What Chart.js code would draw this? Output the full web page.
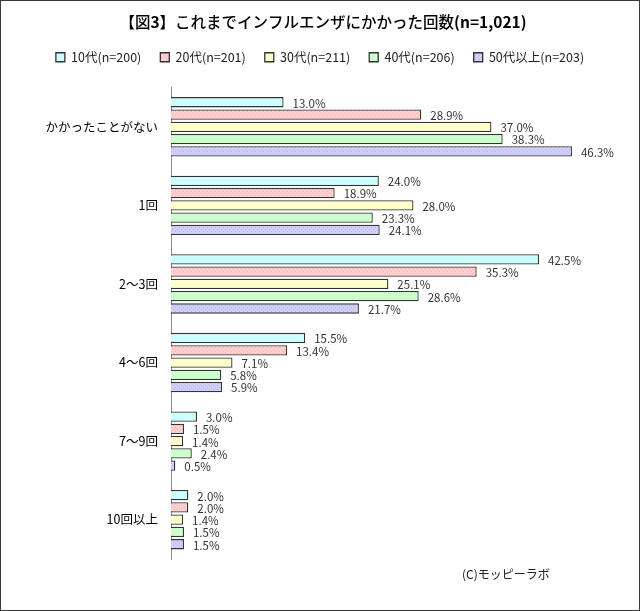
<!DOCTYPE html>
<html>
<head>
<meta charset="utf-8">
<script src="https://cdn.jsdelivr.net/npm/chart.js@4/dist/chart.umd.min.js"></script>
<style>
  body { margin: 0; background: #fff; }
  #wrap { width: 640px; height: 611px; box-sizing: border-box; border: 1px solid #3a3a3a; position: relative; }
</style>
</head>
<body>
<div id="wrap"><canvas id="chartInfluenza"></canvas></div>
<script>
const categories = ["かかったことがない", "1回", "2～3回", "4～6回", "7～9回", "10回以上"];
const seriesNames = ["10代(n=200)", "20代(n=201)", "30代(n=211)", "40代(n=206)", "50代以上(n=203)"];
const teens   = [13.0, 24.0, 42.5, 15.5, 3.0, 2.0];
const twenties = [28.9, 18.9, 35.3, 13.4, 1.5, 2.0];
const thirties = [37.0, 28.0, 25.1, 7.1, 1.4, 1.4];
const forties  = [38.3, 23.3, 28.6, 5.8, 2.4, 1.5];
const fifties  = [46.3, 24.1, 21.7, 5.9, 0.5, 1.5];

const JP = '"Noto Sans CJK JP", "DejaVu Sans", sans-serif';

// small dotted fill like the excel pattern
function dotted(base, dot) {
  const c = document.createElement("canvas");
  c.width = 4; c.height = 4;
  const g = c.getContext("2d");
  g.fillStyle = base; g.fillRect(0, 0, 4, 4);
  g.fillStyle = dot;
  g.fillRect(0, 0, 1, 1); g.fillRect(2, 2, 1, 1);
  return g.createPattern(c, "repeat");
}

const titlePlugin = {
  id: "titleAndCredit",
  afterDraw(chart) {
    const ctx = chart.ctx;
    const parts = [
      ["【図", "500"], ["3", "bold"], ["】これまでインフルエンザにかかった回数", "500"], ["(n=1,021)", "bold"]
    ];
    ctx.save();
    ctx.fillStyle = "#000";
    ctx.textBaseline = "middle";
    let total = 0;
    parts.forEach(p => { ctx.font = p[1] + " 15.5px " + JP; total += ctx.measureText(p[0]).width; });
    let x = chart.width / 2 - total / 2 + 3;
    parts.forEach(p => {
      ctx.font = p[1] + " 15.5px " + JP;
      ctx.fillText(p[0], x, 21);
      x += ctx.measureText(p[0]).width;
    });
    ctx.font = "12px " + JP;
    ctx.fillStyle = "#222";
    ctx.fillText("(C)モッピーラボ", 461, 573);
    ctx.restore();
  }
};

// extra room under the legend
const legendGap = {
  id: "legendGap",
  beforeInit(chart) {
    const fit = chart.legend.fit;
    chart.legend.fit = function () {
      fit.bind(chart.legend)();
      this.height += 14;
    };
  }
};

const valueLabels = {
  id: "valueLabels",
  afterDatasetsDraw(chart) {
    const ctx = chart.ctx;
    ctx.save();
    ctx.font = "11.5px " + JP;
    ctx.fillStyle = "#333";
    ctx.textBaseline = "middle";
    chart.data.datasets.forEach((ds, i) => {
      chart.getDatasetMeta(i).data.forEach((bar, j) => {
        ctx.fillText(ds.data[j].toFixed(1) + "%", bar.x + 9, bar.y + 1);
      });
    });
    ctx.restore();
  }
};

const fills = ["#CCFFFF", dotted("#FFCFCF", "#F2B4B4"), "#FFFFCC", "#CCFFCC", dotted("#CFCFFF", "#B4B4EE")];
const allData = [teens, twenties, thirties, forties, fifties];

const chart = new Chart("chartInfluenza", {
  type: "bar",
  data: {
    labels: categories,
    datasets: seriesNames.map((name, i) => ({
      label: name,
      data: allData[i],
      backgroundColor: fills[i],
      borderColor: "#333",
      borderWidth: 1.3,
      categoryPercentage: 0.78,
      barPercentage: 0.84,
    })),
  },
  options: {
    indexAxis: "y",
    responsive: true,
    maintainAspectRatio: false,
    animation: false,
    layout: { padding: { top: 31, right: 35, bottom: 51, left: 35 } },
    plugins: {
      title: { display: false },
      tooltip: { enabled: false },
      legend: {
        position: "top",
        labels: {
          font: { family: JP, size: 12.5 },
          color: "#222",
          boxWidth: 9,
          boxHeight: 9,
          padding: 19,
        },
      },
    },
    scales: {
      x: { display: false, min: 0, max: 50 },
      y: {
        grid: { display: false, drawTicks: false },
        border: { display: true, color: "#888", width: 1 },
        ticks: { font: { family: JP, size: 12.5 }, color: "#000", padding: 13 },
        afterFit(scale) { scale.width = 135; },
      },
    },
  },
  plugins: [legendGap, titlePlugin, valueLabels],
});
</script>
</body>
</html>
